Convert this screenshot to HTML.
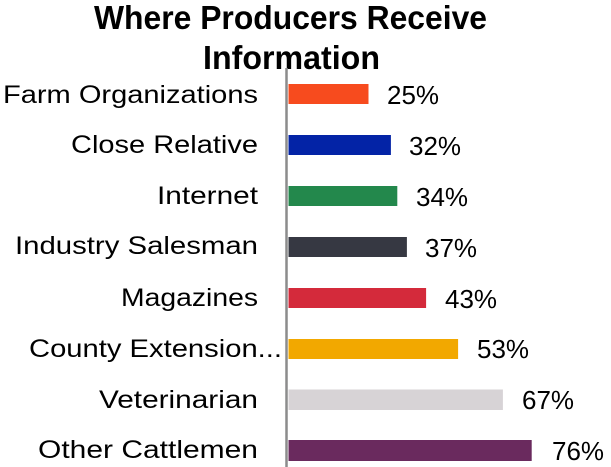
<!DOCTYPE html>
<html>
<head>
<meta charset="utf-8">
<style>
html,body{margin:0;padding:0;background:#fff;}
svg{display:block;}
text{font-family:"Liberation Sans",Arial,sans-serif;fill:#000;}
</style>
</head>
<body>
<svg width="611" height="467" viewBox="0 0 611 467" xmlns="http://www.w3.org/2000/svg">
<rect width="611" height="467" fill="#fff"/>
<!-- Title -->
<text x="94" y="29" font-size="33" font-weight="bold" textLength="393" lengthAdjust="spacingAndGlyphs">Where Producers Receive</text>
<text x="203" y="69" font-size="33" font-weight="bold" textLength="177" lengthAdjust="spacingAndGlyphs">Information</text>

<!-- Bars -->
<rect x="288.5" y="84" width="80" height="20" fill="#F74B1E"/>
<rect x="288.5" y="135" width="102.4" height="20" fill="#0323A6"/>
<rect x="288.5" y="186" width="108.8" height="20" fill="#23884C"/>
<rect x="288.5" y="237" width="118.4" height="20" fill="#363842"/>
<rect x="288.5" y="288" width="137.6" height="20" fill="#D42A3B"/>
<rect x="288.5" y="339" width="169.6" height="20" fill="#F2A800"/>
<rect x="288.5" y="389.5" width="214.4" height="20.5" fill="#D7D3D6"/>
<rect x="288.5" y="440" width="243.2" height="21" fill="#6A2A5E"/>

<!-- Axis -->
<line x1="286.5" y1="68" x2="286.5" y2="467" stroke="#8c8c8c" stroke-width="2.5"/>

<!-- Category labels -->
<g font-size="25">
<text x="3" y="103" textLength="255" lengthAdjust="spacingAndGlyphs">Farm Organizations</text>
<text x="71" y="153" textLength="187" lengthAdjust="spacingAndGlyphs">Close Relative</text>
<text x="157" y="204" textLength="101" lengthAdjust="spacingAndGlyphs">Internet</text>
<text x="15" y="254" textLength="243" lengthAdjust="spacingAndGlyphs">Industry Salesman</text>
<text x="121" y="306" textLength="137" lengthAdjust="spacingAndGlyphs">Magazines</text>
<text x="29" y="357" textLength="253" lengthAdjust="spacingAndGlyphs">County Extension...</text>
<text x="99" y="408" textLength="159" lengthAdjust="spacingAndGlyphs">Veterinarian</text>
<text x="38" y="458" textLength="220" lengthAdjust="spacingAndGlyphs">Other Cattlemen</text>
</g>

<!-- Value labels -->
<g font-size="26">
<text x="387" y="104">25%</text>
<text x="409" y="155">32%</text>
<text x="416" y="206">34%</text>
<text x="425" y="257">37%</text>
<text x="445" y="308">43%</text>
<text x="477" y="358">53%</text>
<text x="522" y="409">67%</text>
<text x="552" y="460">76%</text>
</g>
</svg>
</body>
</html>
